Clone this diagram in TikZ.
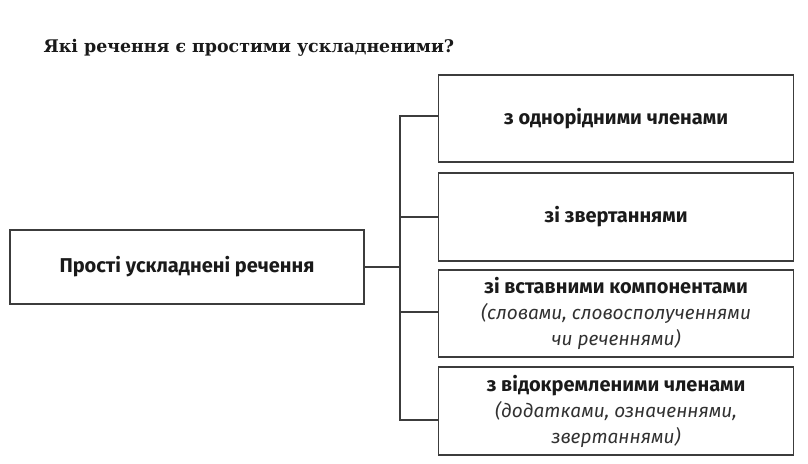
\documentclass[tikz,border=0pt]{standalone}
\usepackage{fontspec}
\setmainfont{Fira Sans}
\newfontfamily\headfont{DejaVu Serif}
\usepackage{tikz}
\usetikzlibrary{
	calc,
	positioning,
}
\definecolor{ink}{HTML}{1A1A1A}
\definecolor{rule}{HTML}{3C3C3C}
\tikzset{box/.style={draw=rule,line width=1.6pt,rectangle,inner sep=0pt,align=center,text=ink,font=\fontsize{20}{26}\selectfont\bfseries}}
\tikzset{part/.style={box,minimum width=355,minimum height=87}}
\tikzset{link/.style={rule,line width=1.6pt}}
\tikzset{
	x=1pt,
	y=-1pt,
}
\newcommand{\note}[1]{{\fontsize{19}{26}\selectfont\mdseries\itshape\color{ink!90}#1}}

\begin{document}
\begin{tikzpicture}
\useasboundingbox (0,0) rectangle (808,463);
\node[anchor=base west,text=ink,font=\headfont\fontsize{17.4}{22}\selectfont\bfseries](title) at(40,52) {Які речення є простими ускладненими?};

\node[box,minimum width=354,minimum height=74](main) at(187,267) {Прості ускладнені речення};

\node[part](p1) at(616,118.5) {з однорідними членами};
\node[part,minimum height=88](p2) at(616,217) {зі звертаннями};
\node[part](p3) at(616,313.5) {зі вставними компонентами\\ \note{(словами, словосполученнями}\\ \note{чи реченнями)}};
\node[part,minimum height=88](p4) at(616,411) {з відокремленими членами\\ \note{(додатками, означеннями,}\\ \note{звертаннями)}};

\coordinate(hub) at(400,267);
\draw[link] (main.east) -- (hub);
\draw[link] (hub) |- ([yshift=2.5]p1.west);
\draw[link] (hub) |- (p2.west);
\draw[link] (hub) |- ([yshift=1.5]p3.west);
\draw[link] (hub) |- ([yshift=-9]p4.west);

\end{tikzpicture}
\end{document}
